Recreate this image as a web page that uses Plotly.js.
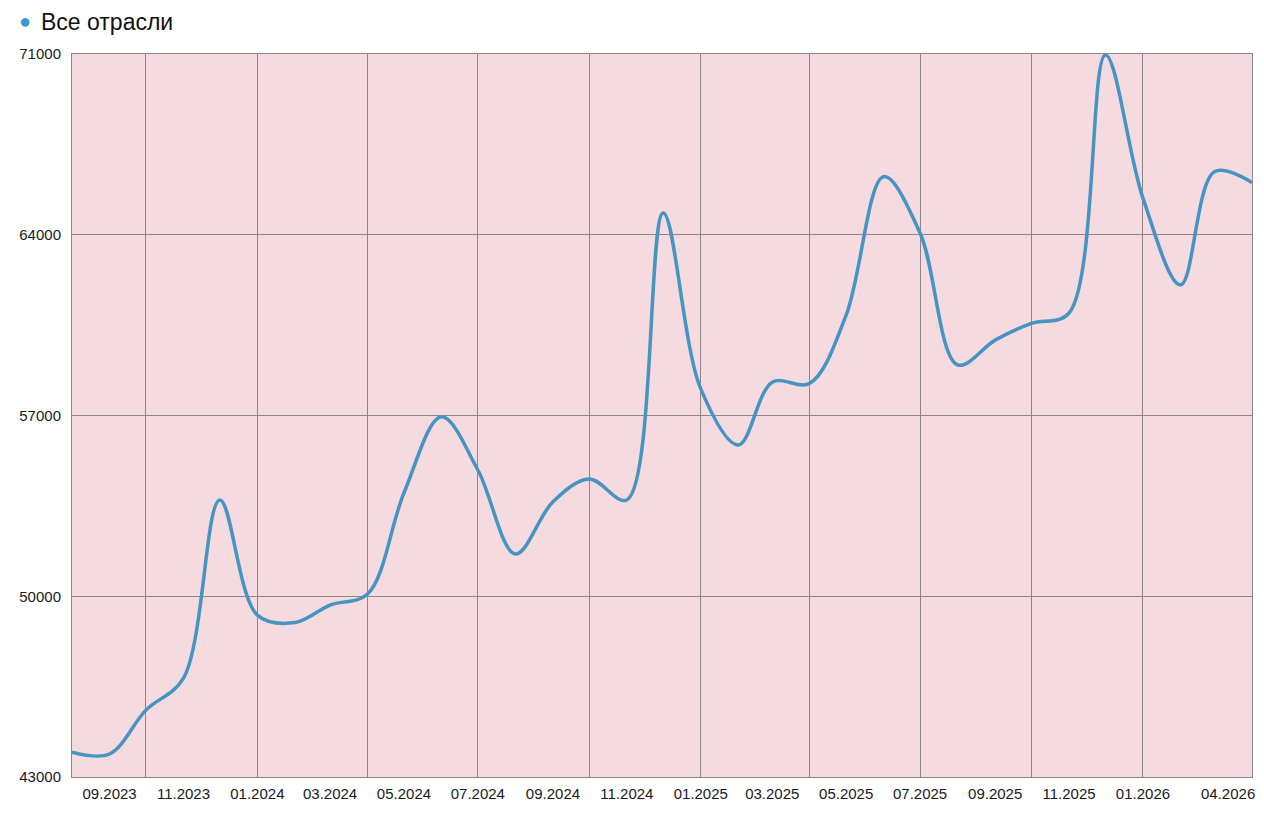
<!DOCTYPE html>
<html>
<head>
<meta charset="utf-8">
<script src="https://cdn.plot.ly/plotly-3.0.1.min.js"></script>
<style>
  html, body { margin: 0; padding: 0; background: #fff; }
  #chart { width: 1264px; height: 816px; }
</style>
</head>
<body>
<div id="chart"></div>
<script>
// месяцы 08.2023 - 04.2026
let months = [
    '2023-08-01', '2023-09-01', '2023-10-01', '2023-11-01', '2023-12-01',
    '2024-01-01', '2024-02-01', '2024-03-01', '2024-04-01', '2024-05-01',
    '2024-06-01', '2024-07-01', '2024-08-01', '2024-09-01', '2024-10-01',
    '2024-11-01', '2024-12-01', '2025-01-01', '2025-02-01', '2025-03-01',
    '2025-04-01', '2025-05-01', '2025-06-01', '2025-07-01', '2025-08-01',
    '2025-09-01', '2025-10-01', '2025-11-01', '2025-12-01', '2026-01-01',
    '2026-02-01', '2026-03-01', '2026-04-01'
];
let allIndustries = [
    43960, 43890, 45590, 46830, 53730,
    49270, 48980, 49660, 50090, 54000,
    56950, 54890, 51640, 53660, 54540,
    53730, 64840, 58030, 55860, 58290,
    58250, 60890, 66250, 64070, 58960,
    59920, 60570, 60970, 70960, 65420,
    62060, 66440, 66020
];
let tickDates = [
    '2023-09-01', '2023-11-01', '2024-01-01', '2024-03-01', '2024-05-01',
    '2024-07-01', '2024-09-01', '2024-11-01', '2025-01-01', '2025-03-01',
    '2025-05-01', '2025-07-01', '2025-09-01', '2025-11-01', '2026-01-01'
];
let tickLabels = [
    '09.2023', '11.2023', '01.2024', '03.2024', '05.2024',
    '07.2024', '09.2024', '11.2024', '01.2025', '03.2025',
    '05.2025', '07.2025', '09.2025', '11.2025', '01.2026'
];
let lastLabel = '04.2026';
let yTicks = [43000, 50000, 57000, 64000, 71000];
let seriesName = 'Все отрасли';

let lineColor = '#4594c2';
let gridColor = '#8f8587';

let trace1 = {
    type: 'scatter',
    mode: 'lines',
    name: seriesName,
    x: months,
    y: allIndustries,
    line: { color: lineColor, width: 3.5, shape: 'spline', smoothing: 1 },
    showlegend: false,
    hoverinfo: 'x+y'
};

let layout1 = {
    width: 1264,
    height: 816,
    margin: { l: 72, r: 12, t: 54, b: 39 },
    paper_bgcolor: '#ffffff',
    plot_bgcolor: '#f5dae0',
    font: { family: '"Liberation Sans", Arial, sans-serif', size: 15, color: '#1a1a1a' },
    xaxis: {
        type: 'date',
        range: [months[0], months[months.length - 1]],
        tickmode: 'array',
        tickvals: tickDates,
        ticktext: tickLabels,
        showgrid: false,
        ticks: 'outside',
        ticklen: 3,
        tickcolor: 'rgba(0,0,0,0)',
        showline: true,
        mirror: true,
        linecolor: gridColor,
        linewidth: 1,
        zeroline: false,
        minor: {
            tick0: '2023-10-01',
            dtick: 'M3',
            showgrid: true,
            gridcolor: gridColor,
            gridwidth: 1,
            ticks: ''
        }
    },
    yaxis: {
        range: [yTicks[0], yTicks[yTicks.length - 1]],
        tickmode: 'array',
        tickvals: yTicks,
        ticktext: yTicks.map(String),
        showgrid: true,
        gridcolor: gridColor,
        gridwidth: 1,
        ticks: 'outside',
        ticklen: 7,
        tickcolor: 'rgba(0,0,0,0)',
        showline: true,
        mirror: true,
        linecolor: gridColor,
        linewidth: 1,
        zeroline: false
    },
    annotations: [
        {
            // последняя подпись оси X прижата к правому краю
            xref: 'x',
            yref: 'paper',
            x: months[months.length - 1],
            y: 0,
            yshift: -6,
            xshift: 5,
            text: lastLabel,
            showarrow: false,
            xanchor: 'right',
            yanchor: 'top',
            font: { size: 15, color: '#1a1a1a' }
        },
        {
            xref: 'paper',
            yref: 'paper',
            x: -0.0398,
            y: 1.046,
            text: '●',
            showarrow: false,
            xanchor: 'center',
            yanchor: 'middle',
            font: { size: 20, color: '#3a9bd0' }
        },
        {
            xref: 'paper',
            yref: 'paper',
            x: -0.028,
            y: 1.044,
            text: seriesName,
            showarrow: false,
            xanchor: 'left',
            yanchor: 'middle',
            font: { size: 23, color: '#111111' }
        }
    ]
};

Plotly.newPlot('chart', [trace1], layout1, { displayModeBar: false, staticPlot: true });
</script>
</body>
</html>
